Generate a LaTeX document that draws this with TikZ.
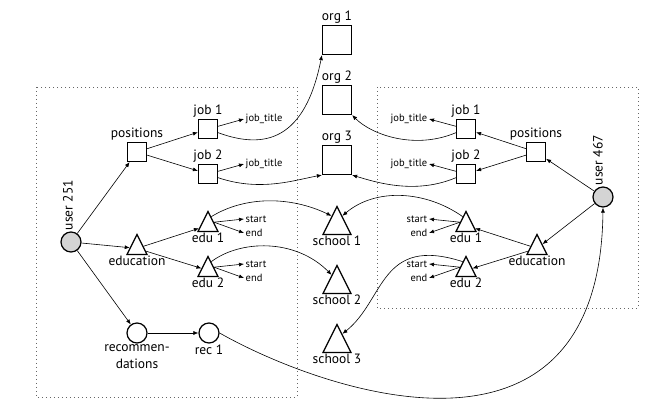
\documentclass[tikz,border=0pt]{standalone}
\usepackage{fontspec}
\setmainfont{PT Sans}
\usetikzlibrary{shapes.geometric,arrows.meta,calc}
\begin{document}
\begin{tikzpicture}[x=1pt,y=1pt,
  every node/.style={font=\fontsize{13.5}{15}\selectfont},
  lbl/.style={inner sep=1pt},
  tiny/.style={inner sep=1.5pt, font=\fontsize{10.5}{12}\selectfont},
  sq/.style={draw, line width=1.2pt, rectangle, minimum size=19pt, inner sep=0pt},
  bigsq/.style={sq, minimum size=29pt},
  tri/.style={draw, line width=1.2pt, isosceles triangle, isosceles triangle stretches,
    shape border rotate=90, minimum width=20pt, minimum height=20pt, inner sep=0pt, anchor=apex},
  bigtri/.style={tri, minimum width=28pt, minimum height=28pt},
  dot/.style={draw, line width=1.2pt, circle, minimum size=20pt, inner sep=0pt},
  user/.style={dot, fill=black!17},
  edge/.style={line width=0.6pt, -{Latex[length=5pt,width=4pt]}},
  region/.style={line width=0.7pt, black!60, dash pattern=on 0.8pt off 3.2pt},
]
\useasboundingbox (0,0) rectangle (665,-417);

% the two users' record regions
\draw[region] (36,-87) rectangle (297,-397);
\draw[region] (377,-87) rectangle (638,-308);

% shared organisations and schools
\node[bigsq, label={[lbl]above:org 1}] (org1) at (337,-40) {};
\node[bigsq, label={[lbl]above:org 2}] (org2) at (337,-100) {};
\node[bigsq, label={[lbl]above:org 3}] (org3) at (337,-160) {};
\node[bigtri, label={[lbl]below:school 1}] (sch1) at (337,-205) {};
\node[bigtri, label={[lbl]below:school 2}] (sch2) at (337,-264) {};
\node[bigtri, label={[lbl]below:school 3}] (sch3) at (337,-323) {};

% user 251
\node[user, label={[lbl, rotate=90, anchor=west, label distance=3pt]90:user 251}] (u251) at (71,-242) {};
\node[sq, label={[lbl]above:positions}] (posL) at (137,-152) {};
\node[sq, label={[lbl]above:job 1}] (job1L) at (208,-129) {};
\node[sq, label={[lbl]above:job 2}] (job2L) at (208,-174) {};
\node[tiny, anchor=west] (jt1L) at (244,-119) {job\_title};
\node[tiny, anchor=west] (jt2L) at (244,-164) {job\_title};
\node[tri, label={[lbl]below:education}] (eduL) at (137,-233) {};
\node[tri, label={[lbl]below:edu 1}] (edu1L) at (208,-210) {};
\node[tri, label={[lbl]below:edu 2}] (edu2L) at (208,-255) {};
\node[tiny, anchor=west] (s1L) at (244,-219) {start};
\node[tiny, anchor=west] (e1L) at (244,-233) {end};
\node[tiny, anchor=west] (s2L) at (244,-264) {start};
\node[tiny, anchor=west] (e2L) at (244,-278) {end};
\node[dot, label={[lbl, align=center, font=\fontsize{13.5}{16.5}\selectfont]below:recommen-\\dations}] (recL) at (137,-333) {};
\node[dot, label={[lbl]below:rec 1}] (rec1) at (209,-333) {};

% user 467
\node[user, label={[lbl, rotate=90, anchor=west, label distance=5pt]90:user 467}] (u467) at (603,-197) {};
\node[sq, label={[lbl]above:positions}] (posR) at (536,-152) {};
\node[sq, label={[lbl]above:job 1}] (job1R) at (466,-129) {};
\node[sq, label={[lbl]above:job 2}] (job2R) at (466,-174) {};
\node[tiny, anchor=east] (jt1R) at (429,-119) {job\_title};
\node[tiny, anchor=east] (jt2R) at (429,-164) {job\_title};
\node[tri, label={[lbl]below:education}] (eduR) at (537,-233) {};
\node[tri, label={[lbl]below:edu 1}] (edu1R) at (466,-210) {};
\node[tri, label={[lbl]below:edu 2}] (edu2R) at (466,-255) {};
\node[tiny, anchor=east] (s1R) at (429,-219) {start};
\node[tiny, anchor=east] (e1R) at (429,-233) {end};
\node[tiny, anchor=east] (s2R) at (429,-264) {start};
\node[tiny, anchor=east] (e2R) at (429,-278) {end};

% tree of user 251
\draw[edge] (u251) -- (posL);
\draw[edge] (u251) -- (eduL);
\draw[edge] (u251) -- (recL);
\draw[edge] (posL) -- (job1L);
\draw[edge] (posL) -- (job2L);
\draw[edge] (job1L.15) -- (jt1L.west);
\draw[edge] (job2L.15) -- (jt2L.west);
\draw[edge] (eduL) -- (edu1L);
\draw[edge] (eduL) -- (edu2L);
\draw[edge] ($(edu1L.apex)!0.55!(edu1L.right corner)$) -- (s1L.west);
\draw[edge] ($(edu1L.apex)!0.55!(edu1L.right corner)$) -- (e1L.west);
\draw[edge] ($(edu2L.apex)!0.55!(edu2L.right corner)$) -- (s2L.west);
\draw[edge] ($(edu2L.apex)!0.55!(edu2L.right corner)$) -- (e2L.west);
\draw[edge] (recL) -- (rec1);

% tree of user 467
\draw[edge] (u467) -- (posR);
\draw[edge] (u467) -- (eduR);
\draw[edge] (posR) -- (job1R);
\draw[edge] (posR) -- (job2R);
\draw[edge] (job1R.165) -- (jt1R.east);
\draw[edge] (job2R.165) -- (jt2R.east);
\draw[edge] (eduR) -- (edu1R);
\draw[edge] (eduR) -- (edu2R);
\draw[edge] ($(edu1R.apex)!0.55!(edu1R.left corner)$) -- (s1R.east);
\draw[edge] ($(edu1R.apex)!0.55!(edu1R.left corner)$) -- (e1R.east);
\draw[edge] ($(edu2R.apex)!0.55!(edu2R.left corner)$) -- (s2R.east);
\draw[edge] ($(edu2R.apex)!0.55!(edu2R.left corner)$) -- (e2R.east);

% references to shared entities
\draw[edge] (job1L.-20) .. controls (265,-150) and (305,-140) .. (org1.south west);
\draw[edge] (job2L.-20) .. controls (260,-192) and (295,-180) .. (org3.south west);
\draw[edge] (job1R.200) .. controls (415,-150) and (372,-135) .. (org2.south east);
\draw[edge] (job2R.200) .. controls (415,-195) and (375,-182) .. (org3.south east);
\draw[edge] ($(edu1L.apex)!0.3!(edu1L.right corner)$) .. controls (245,-196) and (290,-196) ..
  ($(sch1.apex)!0.36!(sch1.left corner)$);
\draw[edge] ($(edu2L.apex)!0.3!(edu2L.right corner)$) .. controls (240,-240) and (295,-238) ..
  ($(sch2.apex)!0.36!(sch2.left corner)$);
\draw[edge] ($(edu1R.apex)!0.3!(edu1R.left corner)$) .. controls (425,-190) and (375,-188) ..
  ($(sch1.apex)!0.36!(sch1.right corner)$);
\draw[edge] ($(edu2R.apex)!0.3!(edu2R.left corner)$) .. controls (380,-235) and (385,-300) ..
  ($(sch3.apex)!0.36!(sch3.right corner)$);
\draw[edge] (rec1.east) .. controls (320,-390) and (600,-490) .. (u467.south);
\end{tikzpicture}
\end{document}
